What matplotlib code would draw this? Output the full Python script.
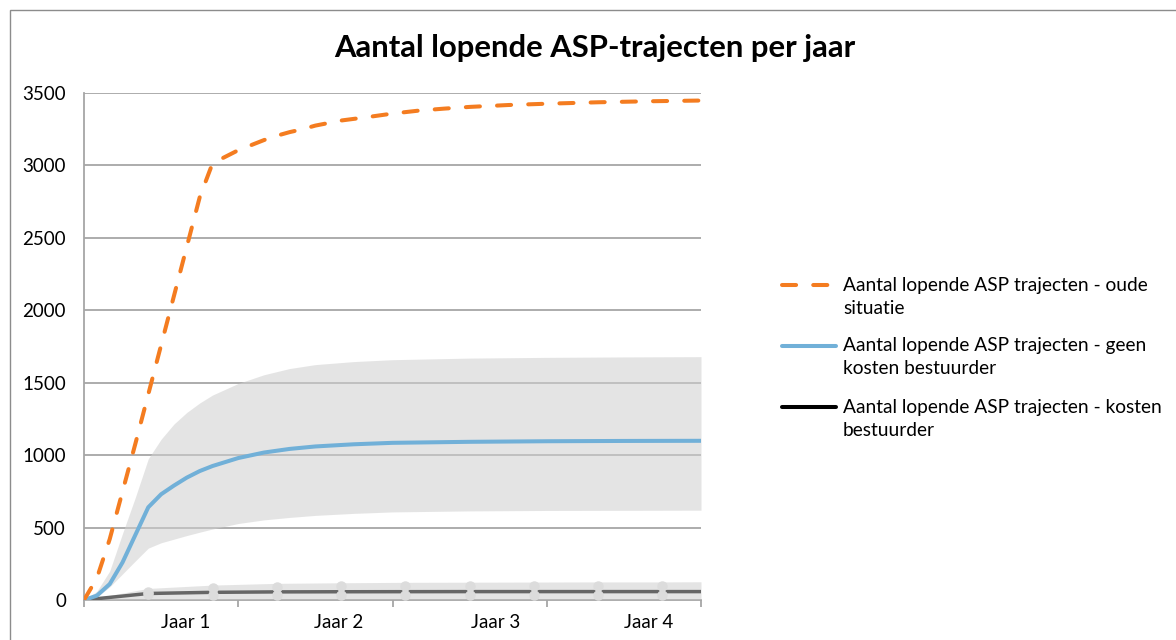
import matplotlib
matplotlib.use("Agg")
import matplotlib.pyplot as plt
from matplotlib.lines import Line2D
from matplotlib.patches import Rectangle

plt.rcParams['font.family'] = ['Lato', 'DejaVu Sans']

# ---------------- data (months since start) ----------------
months_oude = [0, 1, 2, 3, 4, 5, 6, 7, 8, 9, 10, 11, 12, 13, 14, 15, 16, 17, 18,
               20, 22, 24, 26, 28, 30, 33, 36, 40, 44, 48]
oude = [0, 150, 420, 750, 1080, 1420, 1760, 2100, 2440, 2780, 3015, 3060, 3105,
        3140, 3175, 3205, 3230, 3250, 3275, 3310, 3333, 3358, 3378, 3392, 3404,
        3417, 3426, 3436, 3443, 3448]

months_geen = [0, 1, 2, 3, 4, 5, 6, 7, 8, 9, 10, 12, 14, 16, 18, 21, 24, 30, 36, 42, 48]
geen = [0, 30, 110, 260, 450, 640, 730, 790, 845, 890, 925, 980, 1018, 1043, 1060,
        1075, 1085, 1092, 1096, 1098, 1099]
geen_hoog = [0, 60, 200, 460, 710, 975, 1110, 1215, 1295, 1360, 1415, 1495, 1555,
             1598, 1625, 1646, 1659, 1670, 1675, 1678, 1680]
geen_laag = [0, 20, 90, 180, 270, 358, 395, 420, 445, 468, 490, 528, 553, 570, 584,
             598, 608, 615, 618, 619, 620]

months_kosten = [0, 5, 10, 15, 20, 25, 30, 35, 40, 45, 48]
kosten = [0, 45, 53, 56, 57, 57.5, 58, 58, 58, 58, 58]
kosten_hoog = [0, 80, 103, 115, 119, 122, 123, 124, 125, 125, 126]
kosten_laag = [0, 3, 4, 5, 5, 5, 5, 5, 5, 5, 5]

months_markers = [5, 10, 15, 20, 25, 30, 35, 40, 45]
markers_hoog = [55, 80, 92, 95, 96, 96, 96, 96, 96]
markers_laag = [40, 34, 36, 34, 34, 34, 34, 34, 34]

year_ticks = [0, 12, 24, 36, 48]
label_pos = [7.9, 19.8, 32.0, 43.9]
tick_labels = ["Jaar 1", "Jaar 2", "Jaar 3", "Jaar 4"]
y_ticks = [0, 500, 1000, 1500, 2000, 2500, 3000, 3500]

legend_labels = [
    ["Aantal lopende ASP trajecten - oude", "situatie"],
    ["Aantal lopende ASP trajecten - geen", "kosten bestuurder"],
    ["Aantal lopende ASP trajecten - kosten", "bestuurder"],
]

# ---------------- figure ----------------
W, H = 1176, 640
fig = plt.figure(figsize=(W / 100, H / 100), dpi=100)
fig.patch.set_facecolor('white')

# chart border
fig.add_artist(Rectangle((10 / W, -0.5), 2, 1.5 - 10 / H, transform=fig.transFigure,
                         fill=False, edgecolor='#8c8c8c', linewidth=1.0))

ax = fig.add_axes([84 / W, 1 - 600 / H, (701 - 84) / W, (600 - 93) / H])
ax.set_xlim(0, 48)
ax.set_ylim(0, 3500)

grid_c = '#a6a6a6'
for s in ['top', 'right']:
    ax.spines[s].set_visible(False)
for s in ['left', 'bottom']:
    ax.spines[s].set_color(grid_c)
    ax.spines[s].set_linewidth(1.3)
    ax.spines[s].set_zorder(1)

ax.set_yticks(y_ticks)
ax.set_yticklabels([str(v) for v in y_ticks])
ax.yaxis.grid(True, color=grid_c, linewidth=1.3, zorder=0)
ax.set_axisbelow(True)
ax.tick_params(axis='y', length=0, pad=13, labelsize=13.5, labelcolor='black')

ax.set_xticks(label_pos)
ax.set_xticklabels(tick_labels)
ax.set_xticks(year_ticks, minor=True)
ax.tick_params(axis='x', which='major', length=0, pad=10, labelsize=13.5)
ax.tick_params(axis='x', which='minor', length=5, width=1.3, color=grid_c, direction='out')

band_c = '#cfcfcf'
ax.fill_between(months_geen, geen_laag, geen_hoog, color=band_c, alpha=0.55,
                linewidth=0, zorder=2)
ax.fill_between(months_kosten, kosten_laag, kosten_hoog, color=band_c, alpha=0.55,
                linewidth=0, zorder=2)

ax.plot(months_kosten, kosten, color='#666666', linewidth=2.5, zorder=3,
        solid_capstyle='round')
ax.plot(months_markers, markers_hoog, linestyle='none', marker='o', markersize=6.5,
        markerfacecolor='#dcdcdc', markeredgecolor='#dcdcdc', zorder=4)
ax.plot(months_markers, markers_laag, linestyle='none', marker='o', markersize=6.5,
        markerfacecolor='#dcdcdc', markeredgecolor='#dcdcdc', zorder=4)

orange_c = '#f47c20'
blue_c = '#71b0d8'
ax.plot(months_geen, geen, color=blue_c, linewidth=2.9, zorder=5, solid_joinstyle='round')
ax.plot(months_oude, oude, color=orange_c, linewidth=2.9, zorder=6,
        dashes=(3.5, 4.25), dash_capstyle='round', dash_joinstyle='round')

# title
fig.text(595 / W, 1 - 48 / H, "Aantal lopende ASP-trajecten per jaar", ha='center',
         va='center', fontsize=22.3, fontweight='bold')

# manual legend
leg_styles = [
    dict(color=orange_c, linewidth=2.9, dashes=(3.5, 4.25), dash_capstyle='round'),
    dict(color=blue_c, linewidth=2.9, solid_capstyle='round'),
    dict(color='black', linewidth=2.9, solid_capstyle='round'),
]
leg_y = [285, 346, 407]
for (l1, l2), st, y in zip(legend_labels, leg_styles, leg_y):
    fig.add_artist(Line2D([782 / W, 836 / W], [1 - y / H, 1 - y / H],
                          transform=fig.transFigure, **st))
    fig.text(843 / W, 1 - y / H, l1, ha='left', va='center', fontsize=13.8)
    fig.text(843 / W, 1 - (y + 23) / H, l2, ha='left', va='center', fontsize=13.8)

fig.savefig('out.png', dpi=100)
